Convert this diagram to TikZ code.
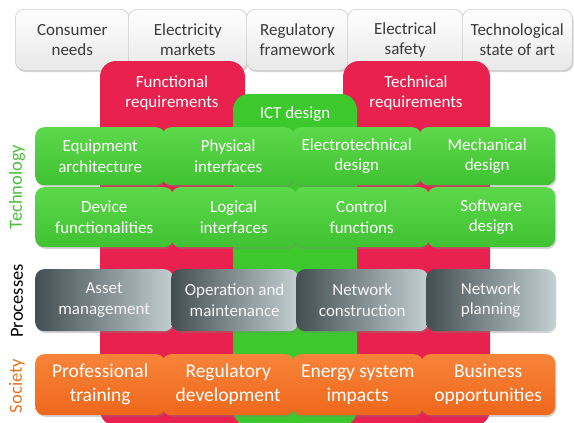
\documentclass[tikz,border=0pt]{standalone}
\usepackage{fontspec}
\setmainfont{Carlito}
\usetikzlibrary{shadows}
\definecolor{redcol}{HTML}{E8214E}
\definecolor{ictgrn}{HTML}{3DC92E}
\definecolor{grnlt}{HTML}{5CD84B}
\definecolor{grndk}{HTML}{40C232}
\definecolor{orng}{HTML}{EF671B}
\definecolor{ornglt}{HTML}{F7843A}
\definecolor{gdk}{HTML}{434E53}
\definecolor{glt}{HTML}{C4CFD2}
\definecolor{topbd}{HTML}{CACACA}
\definecolor{toptx}{HTML}{3A3A3A}
\definecolor{techlab}{HTML}{4BBF3B}
\definecolor{soclab}{HTML}{E8731F}
\tikzset{
  basebox/.style={rounded corners=9pt, inner sep=0pt, align=center, anchor=north west,
    font=\fontsize{17}{20.5}\selectfont,
    drop shadow={shadow xshift=1.2pt, shadow yshift=-1.8pt, opacity=0.35}},
  topbox/.style={basebox, draw=topbd, line width=0.6pt, top color=white, bottom color=black!9, text=toptx},
  techbox/.style={basebox, top color=grnlt, bottom color=grndk, text=white},
  procbox/.style={basebox, left color=gdk, right color=glt, text=white!93!gray},
  socbox/.style={basebox, top color=ornglt, bottom color=orng, text=white,
    font=\fontsize{19.5}{24}\selectfont},
  coltext/.style={align=center, text=white, font=\fontsize{17}{20.5}\selectfont, inner sep=0pt},
  sidelab/.style={rotate=90, inner sep=0pt, font=\fontsize{18.5}{20}\selectfont},
}
\begin{document}
\begin{tikzpicture}[x=1pt, y=-1pt]
\useasboundingbox (0,0) rectangle (574,423);
% top grey boxes
\node[topbox, minimum width=114pt, minimum height=61pt] (cn) at (15,9) {Consumer\\needs};
\node[topbox, minimum width=119pt, minimum height=61pt] (em) at (128,9) {Electricity\\markets};
\node[topbox, minimum width=102pt, minimum height=61pt] (rf) at (246,9) {Regulatory\\framework};
\node[topbox, minimum width=116pt, minimum height=61pt] (es) at (347,9) {Electrical\\safety};
\node[topbox, minimum width=110pt, minimum height=61pt] (ts) at (462,9) {Technological\\state of art};
% columns
\begin{scope}
\clip (0,0) rectangle (574,423);
\fill[redcol, rounded corners=16pt] (100,61) rectangle (245,426);
\fill[redcol, rounded corners=16pt] (343,61) rectangle (490,426);
\fill[ictgrn, rounded corners=16pt] (233,94) rectangle (357,426);
\end{scope}
\node[coltext] (fr) at (172,93) {Functional\\requirements};
\node[coltext] (tr) at (416,93) {Technical\\requirements};
\node[coltext] (ict) at (295,114) {ICT design};
% technology rows
\node[techbox, minimum width=130pt, minimum height=58pt] (ea) at (35,127) {Equipment\\architecture};
\node[techbox, minimum width=132pt, minimum height=58pt] (pi) at (162,127) {Physical\\interfaces};
\node[techbox, minimum width=129pt, minimum height=58pt] (ed) at (292,127) {Electrotechnical\\design};
\node[techbox, minimum width=136pt, minimum height=58pt] (md) at (419,127) {Mechanical\\design};
\node[techbox, minimum width=138pt, minimum height=60pt] (df) at (35,187) {Device\\functionalities};
\node[techbox, minimum width=125pt, minimum height=60pt] (li) at (171,187) {Logical\\interfaces};
\node[techbox, minimum width=135pt, minimum height=60pt] (cf) at (294,187) {Control\\functions};
\node[techbox, minimum width=128pt, minimum height=60pt] (sd) at (427,187) {Software\\design};
% processes
\node[procbox, minimum width=138pt, minimum height=62pt] (am) at (35,269) {Asset\\management};
\node[procbox, minimum width=127pt, minimum height=62pt] (om) at (171,269) {Operation and\\maintenance};
\node[procbox, minimum width=132pt, minimum height=62pt] (nc) at (296,269) {Network\\construction};
\node[procbox, minimum width=129pt, minimum height=62pt] (np) at (426,269) {Network\\planning};
% society
\node[socbox, minimum width=130pt, minimum height=61pt] (pt) at (35,354) {Professional\\training};
\node[socbox, minimum width=132pt, minimum height=61pt] (rd) at (162,354) {Regulatory\\development};
\node[socbox, minimum width=131pt, minimum height=61pt] (esi) at (292,354) {Energy system\\impacts};
\node[socbox, minimum width=134pt, minimum height=61pt] (bo) at (421,354) {Business\\opportunities};
% side labels
\node[sidelab, text=techlab] (ltech) at (17,187) {Technology};
\node[sidelab, text=black] (lproc) at (17,301) {Processes};
\node[sidelab, text=soclab] (lsoc) at (17,386) {Society};
\end{tikzpicture}
\end{document}
